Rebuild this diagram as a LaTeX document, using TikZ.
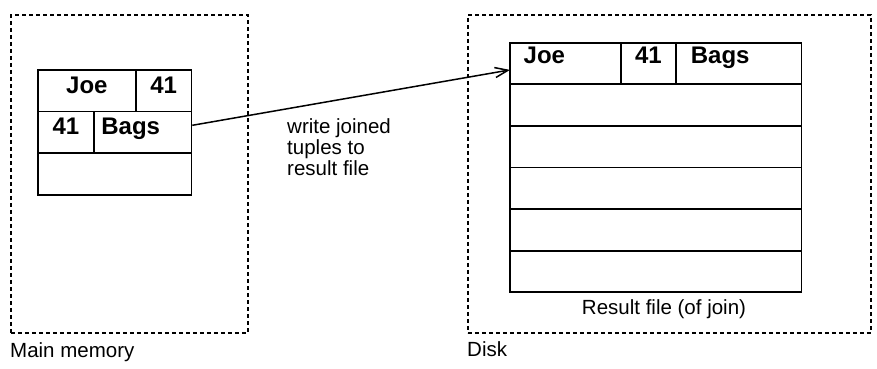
\documentclass[tikz,border=0pt]{standalone}
\usepackage{fontspec}
\setmainfont{Liberation Sans}
\usetikzlibrary{arrows.meta}
\begin{document}
\begin{tikzpicture}[
    x=1pt,y=-1pt,
    frame/.style={draw,line width=1.5pt,dash pattern=on 4pt off 3pt,anchor=north west,inner sep=0pt},
    cell/.style={draw,line width=1.8pt,anchor=north west,inner sep=0pt,minimum height=41.6pt,
                 font=\fontsize{24}{26}\selectfont\bfseries},
    lcell/.style={cell,text height=12pt,text depth=7.4pt},
    rcell/.style={cell,text height=10pt,text depth=10.4pt},
    lbl/.style={inner sep=0pt,font=\fontsize{20.5}{21}\selectfont}
]
\useasboundingbox (0,0) rectangle (877,368);

% main memory
\node[frame,minimum width=237pt,minimum height=318pt] (mem) at (10,14) {};
\node[lbl,anchor=base west] (memlbl) at (10,357) {Main memory};

\node[lcell,minimum width=98pt]   (ljoe)  at (37,69)    {Joe};
\node[lcell,minimum width=55.5pt] (lage)  at (135,69)   {41};
\node[lcell,minimum width=56pt]   (lnum)  at (37,110.6) {41};
\node[lcell,minimum width=97.5pt,text width=82.5pt,align=left] (lbags) at (93,110.6) {Bags};
\node[lcell,minimum width=153.5pt] (lfree) at (37,152.2) {};

% disk
\node[frame,minimum width=403pt,minimum height=318pt] (disk) at (467,14) {};
\node[lbl,anchor=base west] (disklbl) at (467,356) {Disk};

\node[rcell,minimum width=111pt,text width=83.5pt,align=left]   (rjoe)  at (509,41.7) {Joe};
\node[rcell,minimum width=55pt]                                  (rage)  at (620,41.7) {41};
\node[rcell,minimum width=125.5pt,text width=95.5pt,align=left] (rbags) at (675,41.7) {Bags};
\foreach \i in {1,...,5} {
  \node[rcell,minimum width=291.5pt] (row\i) at (509,41.7+41.6*\i) {};
}
\node[lbl,anchor=base] (reslbl) at (664,314) {Result file (of join)};

\draw[line width=1.5pt,-{Straight Barb[length=13pt,width=10pt]}]
  ([yshift=7pt]lbags.east) -- ([yshift=-6.5pt,xshift=1pt]rjoe.west);
\node[lbl,anchor=north west,align=left] (note) at (287,118.5) {write joined\\tuples to\\result file};
\end{tikzpicture}
\end{document}
